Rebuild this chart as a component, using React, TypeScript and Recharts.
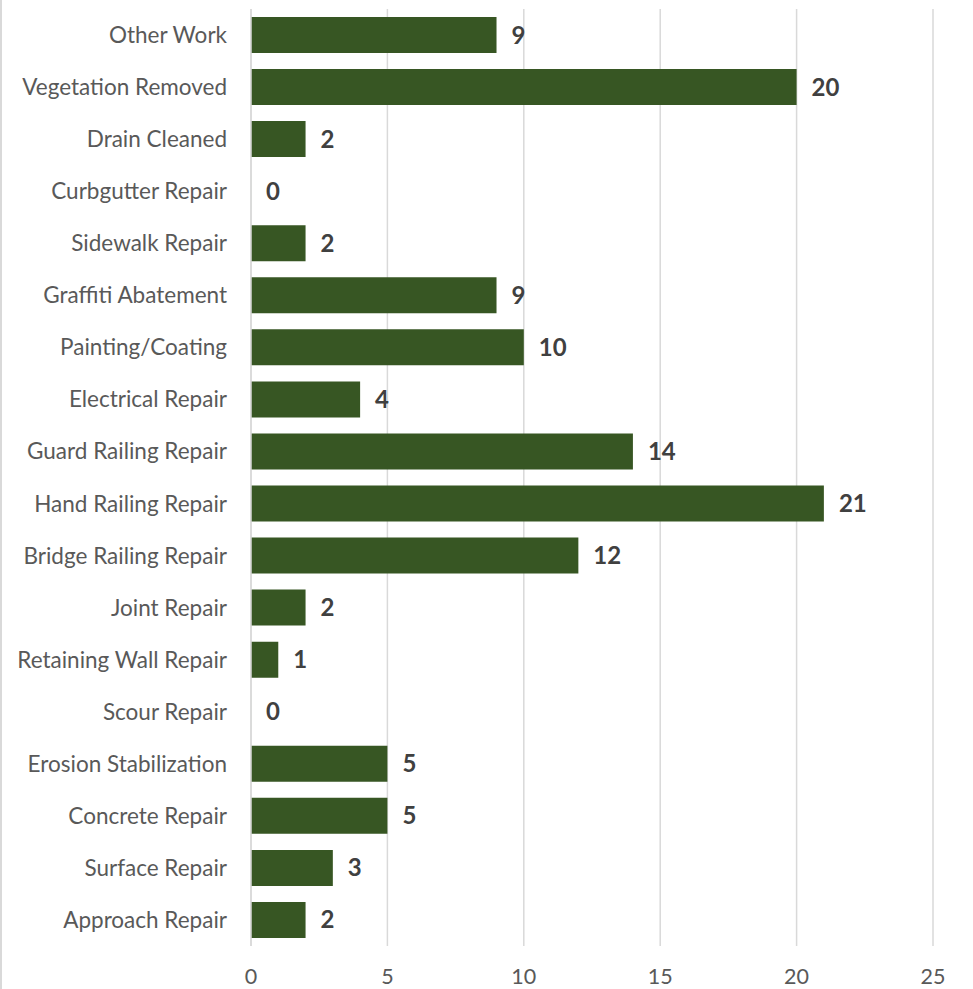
import React from "react";
import { BarChart, Bar, XAxis, YAxis, CartesianGrid, LabelList } from "recharts";

const categories = [
  "Other Work",
  "Vegetation Removed",
  "Drain Cleaned",
  "Curbgutter Repair",
  "Sidewalk Repair",
  "Graffiti Abatement",
  "Painting/Coating",
  "Electrical Repair",
  "Guard Railing Repair",
  "Hand Railing Repair",
  "Bridge Railing Repair",
  "Joint Repair",
  "Retaining Wall Repair",
  "Scour Repair",
  "Erosion Stabilization",
  "Concrete Repair",
  "Surface Repair",
  "Approach Repair",
];

const counts = [9, 20, 2, 0, 2, 9, 10, 4, 14, 21, 12, 2, 1, 0, 5, 5, 3, 2];

const xTicks = [0, 5, 10, 15, 20, 25];

const data = categories.map((name, i) => ({ name, value: counts[i] }));

const FONT = "Lato, 'Open Sans', sans-serif";

export default function App() {
  return (
    <div
      style={{
        position: "absolute",
        left: 0,
        top: 0,
        width: 973,
        height: 989,
        background: "#fff",
        borderLeft: "2px solid #d9d9d9",
        boxSizing: "border-box",
      }}
    >
      <div style={{ position: "absolute", left: -2, top: 0 }}>
        <BarChart
          width={973}
          height={989}
          data={data}
          layout="vertical"
          margin={{ top: 9, right: 40, bottom: 0, left: 0 }}
        >
          <CartesianGrid horizontal={false} vertical={true} stroke="#d9d9d9" strokeWidth={1.5} />
          <XAxis
            type="number"
            domain={[0, 25]}
            ticks={xTicks}
            axisLine={false}
            tickLine={false}
            height={43}
            tickMargin={17}
            interval={0}
            tick={{ fill: "#595959", fontSize: 21.5, fontFamily: FONT }}
          />
          <YAxis
            type="category"
            dataKey="name"
            width={251}
            axisLine={{ stroke: "#d9d9d9", strokeWidth: 1.5 }}
            tickLine={false}
            tickMargin={18}
            interval={0}
            tick={{ fill: "#595959", fontSize: 22.5, fontFamily: FONT }}
          />
          <Bar dataKey="value" fill="#375623" barSize={36} minPointSize={0.01} isAnimationActive={false}>
            <LabelList
              dataKey="value"
              position="right"
              offset={15}
              style={{ fill: "#404040", fontSize: 24, fontWeight: 700, fontFamily: FONT }}
            />
          </Bar>
        </BarChart>
      </div>
    </div>
  );
}
